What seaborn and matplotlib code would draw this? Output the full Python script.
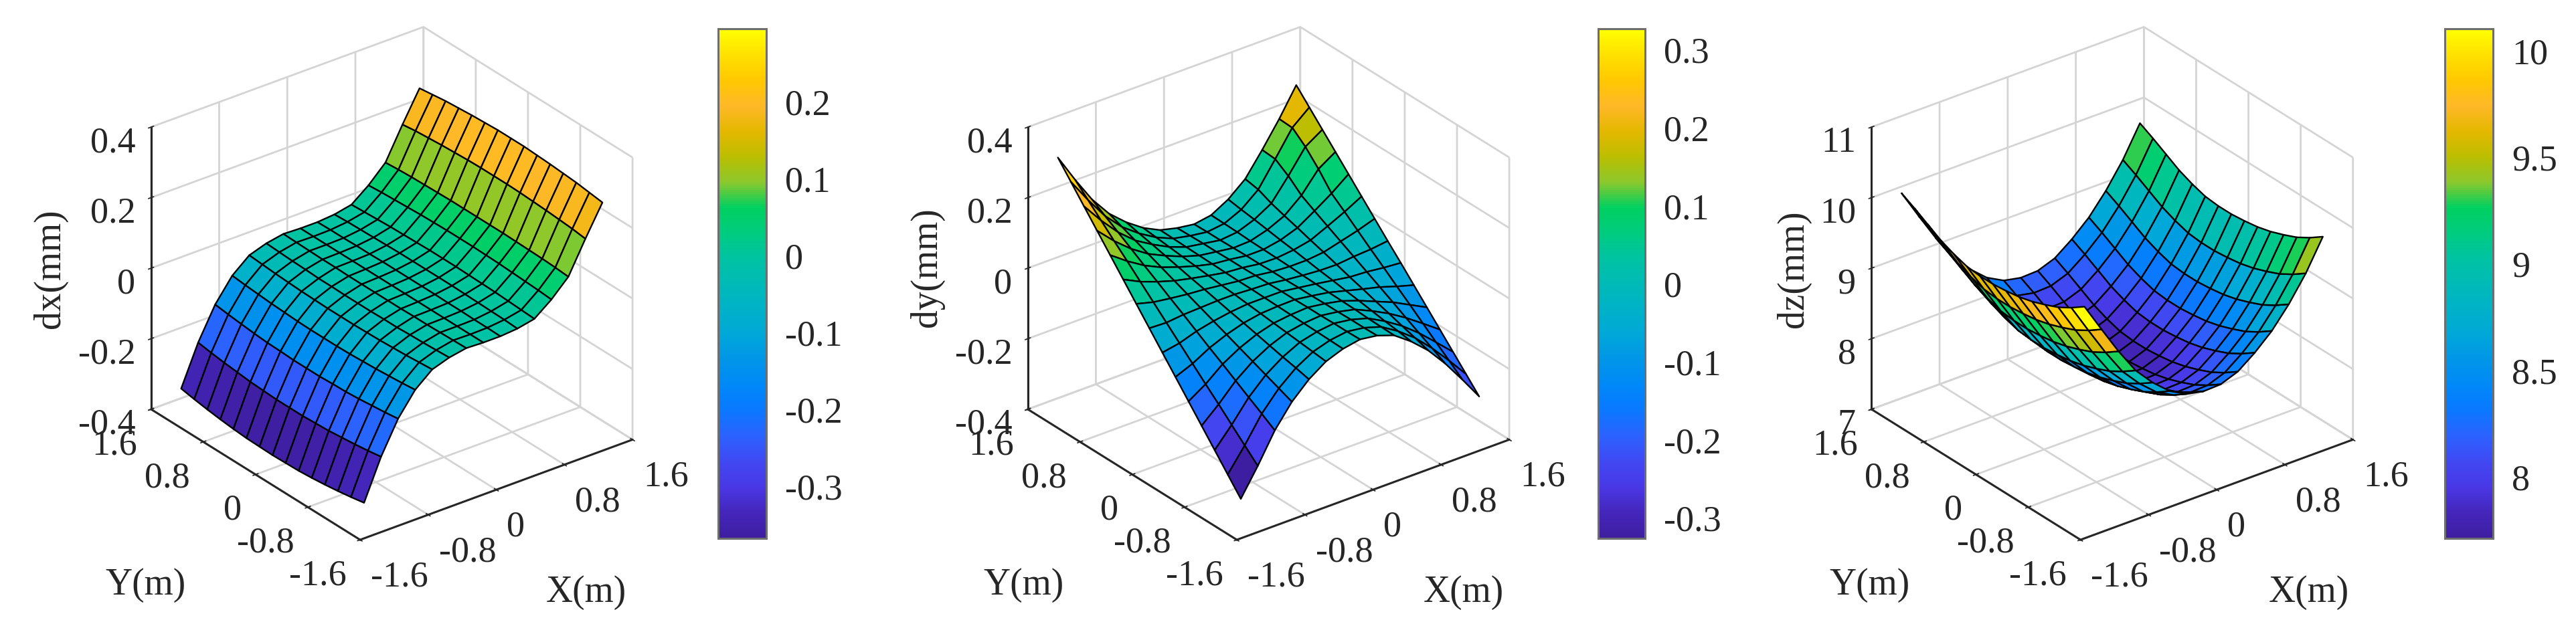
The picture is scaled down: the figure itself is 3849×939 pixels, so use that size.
import numpy as np
import matplotlib
matplotlib.use("Agg")
import matplotlib.pyplot as plt
from matplotlib.cm import ScalarMappable
from matplotlib.colors import Normalize
import seaborn as sns

sns.set_theme(style="white")
plt.rcParams["font.family"] = ["Liberation Serif", "DejaVu Serif"]
plt.rcParams["axes.unicode_minus"] = False
plt.rcParams["grid.color"] = "#d4d4d4"
plt.rcParams["grid.linewidth"] = 2.0

FIG_W, FIG_H = 3849, 939
TICK_SIZE = 39
TEXT_COLOR = "#262626"

grid_x = [-1.4, -1.2, -1.0, -0.8, -0.6, -0.4, -0.2, 0.0, 0.2, 0.4, 0.6, 0.8, 1.0, 1.2, 1.4]
grid_y = [-1.4, -1.2, -1.0, -0.8, -0.6, -0.4, -0.2, 0.0, 0.2, 0.4, 0.6, 0.8, 1.0, 1.2, 1.4]

# one row per x, one column per y
dx_values = [
    [-.336, -.343, -.349, -.354, -.358, -.361, -.362, -.363, -.362, -.361, -.358, -.354, -.349, -.343, -.336],
    [-.223, -.229, -.234, -.238, -.242, -.244, -.246, -.246, -.246, -.244, -.242, -.238, -.234, -.229, -.223],
    [-.133, -.138, -.142, -.146, -.149, -.150, -.152, -.152, -.152, -.150, -.149, -.146, -.142, -.138, -.133],
    [-.069, -.073, -.076, -.079, -.081, -.083, -.084, -.084, -.084, -.083, -.081, -.079, -.076, -.073, -.069],
    [-.029, -.032, -.035, -.037, -.039, -.040, -.041, -.041, -.041, -.040, -.039, -.037, -.035, -.032, -.029],
    [-.013, -.015, -.017, -.018, -.020, -.020, -.021, -.021, -.021, -.020, -.020, -.018, -.017, -.015, -.013],
    [-.004, -.005, -.006, -.007, -.007, -.008, -.008, -.008, -.008, -.008, -.007, -.007, -.006, -.005, -.004],
    [-.006, -.006, -.006, -.006, -.006, -.006, -.006, -.006, -.006, -.006, -.006, -.006, -.006, -.006, -.006],
    [-.006, -.005, -.005, -.004, -.004, -.003, -.003, -.003, -.003, -.003, -.004, -.004, -.005, -.005, -.006],
    [-.002, .000, .001, .002, .003, .004, .004, .004, .004, .004, .003, .002, .001, .000, -.002],
    [.008, .010, .012, .014, .015, .016, .017, .017, .017, .016, .015, .014, .012, .010, .008],
    [.045, .048, .050, .052, .054, .055, .056, .056, .056, .055, .054, .052, .050, .048, .045],
    [.092, .095, .097, .098, .099, .100, .100, .100, .100, .100, .099, .098, .097, .095, .092],
    [.182, .187, .190, .193, .195, .197, .198, .198, .198, .197, .195, .193, .190, .187, .182],
    [.267, .272, .277, .280, .283, .285, .287, .287, .287, .285, .283, .280, .277, .272, .267],
]
dy_values = [
    [-.325, -.279, -.233, -.187, -.141, -.095, -.049, -.003, .043, .089, .135, .181, .227, .273, .319],
    [-.249, -.214, -.179, -.144, -.110, -.075, -.040, -.005, .030, .065, .100, .134, .169, .204, .239],
    [-.166, -.142, -.119, -.095, -.071, -.048, -.024, .000, .023, .047, .070, .094, .118, .141, .165],
    [-.103, -.088, -.073, -.058, -.043, -.028, -.013, .002, .017, .032, .047, .062, .077, .092, .107],
    [-.057, -.048, -.040, -.031, -.022, -.013, -.005, .004, .013, .021, .030, .039, .048, .056, .065],
    [-.024, -.020, -.016, -.012, -.008, -.004, .000, .004, .007, .011, .015, .019, .023, .027, .031],
    [-.006, -.005, -.004, -.003, -.002, -.001, .000, .001, .001, .002, .003, .004, .005, .006, .007],
    [.003, .002, .002, .001, .001, .000, .000, -.001, -.001, -.002, -.002, -.003, -.003, -.004, -.005],
    [-.004, -.005, -.005, -.006, -.006, -.007, -.007, -.008, -.008, -.009, -.009, -.010, -.011, -.011, -.012],
    [-.021, -.020, -.019, -.017, -.016, -.015, -.014, -.013, -.011, -.010, -.009, -.008, -.006, -.005, -.004],
    [-.056, -.050, -.045, -.039, -.033, -.028, -.022, -.017, -.011, -.005, .000, .006, .012, .017, .023],
    [-.099, -.087, -.076, -.064, -.053, -.041, -.030, -.018, -.006, .005, .017, .028, .040, .056, .063],
    [-.154, -.134, -.114, -.094, -.073, -.053, -.033, -.013, .007, .027, .047, .068, .100, .125, .128],
    [-.217, -.187, -.158, -.128, -.098, -.069, -.039, -.010, .020, .050, .079, .125, .165, .196, .198],
    [-.283, -.243, -.203, -.163, -.123, -.083, -.043, -.004, .036, .076, .116, .156, .196, .236, .276],
]
dz_values = [
    [10.10, 9.97, 9.86, 9.78, 9.71, 9.66, 9.63, 9.61, 9.61, 9.63, 9.69, 9.77, 9.88, 9.99, 10.09],
    [9.69, 9.56, 9.45, 9.37, 9.30, 9.25, 9.22, 9.20, 9.20, 9.22, 9.28, 9.36, 9.47, 9.58, 9.68],
    [9.29, 9.16, 9.05, 8.97, 8.90, 8.85, 8.82, 8.80, 8.80, 8.82, 8.88, 8.96, 9.07, 9.18, 9.28],
    [8.93, 8.80, 8.69, 8.61, 8.54, 8.49, 8.46, 8.44, 8.44, 8.46, 8.52, 8.60, 8.71, 8.82, 8.92],
    [8.67, 8.54, 8.43, 8.35, 8.28, 8.23, 8.20, 8.18, 8.18, 8.20, 8.26, 8.34, 8.45, 8.56, 8.66],
    [8.46, 8.33, 8.22, 8.14, 8.07, 8.02, 7.99, 7.97, 7.97, 7.99, 8.05, 8.13, 8.24, 8.35, 8.45],
    [8.33, 8.20, 8.09, 8.01, 7.94, 7.89, 7.86, 7.84, 7.84, 7.86, 7.92, 8.00, 8.11, 8.22, 8.32],
    [8.28, 8.15, 8.04, 7.96, 7.89, 7.84, 7.81, 7.79, 7.79, 7.81, 7.87, 7.95, 8.06, 8.17, 8.27],
    [8.29, 8.16, 8.05, 7.97, 7.90, 7.85, 7.82, 7.80, 7.80, 7.82, 7.88, 7.96, 8.07, 8.18, 8.28],
    [8.38, 8.25, 8.14, 8.06, 7.99, 7.94, 7.91, 7.89, 7.89, 7.91, 7.97, 8.05, 8.16, 8.27, 8.37],
    [8.56, 8.43, 8.32, 8.24, 8.17, 8.12, 8.09, 8.07, 8.07, 8.09, 8.15, 8.23, 8.34, 8.45, 8.55],
    [8.78, 8.65, 8.54, 8.46, 8.39, 8.34, 8.31, 8.29, 8.29, 8.31, 8.37, 8.45, 8.56, 8.67, 8.77],
    [9.07, 8.94, 8.83, 8.75, 8.68, 8.63, 8.60, 8.58, 8.58, 8.60, 8.66, 8.74, 8.85, 8.96, 9.06],
    [9.42, 9.29, 9.18, 9.10, 9.03, 8.98, 8.95, 8.93, 8.93, 8.95, 9.01, 9.09, 9.20, 9.31, 9.41],
    [9.85, 9.72, 9.61, 9.53, 9.46, 9.41, 9.38, 9.36, 9.36, 9.38, 9.44, 9.52, 9.63, 9.74, 9.84],
]

xy_ticks = [-1.6, -0.8, 0, 0.8, 1.6]
xy_labels = ["-1.6", "-0.8", "0", "0.8", "1.6"]
dxy_ticks = [-0.4, -0.2, 0, 0.2, 0.4]
dxy_labels = ["-0.4", "-0.2", "0", "0.2", "0.4"]
dz_ticks = [7, 8, 9, 10, 11]
dz_labels = ["7", "8", "9", "10", "11"]

cbar_ticks_dx = [-0.3, -0.2, -0.1, 0, 0.1, 0.2]
cbar_labels_dx = ["-0.3", "-0.2", "-0.1", "0", "0.1", "0.2"]
cbar_ticks_dy = [-0.3, -0.2, -0.1, 0, 0.1, 0.2, 0.3]
cbar_labels_dy = ["-0.3", "-0.2", "-0.1", "0", "0.1", "0.2", "0.3"]
cbar_ticks_dz = [8, 8.5, 9, 9.5, 10]
cbar_labels_dz = ["8", "8.5", "9", "9.5", "10"]

parula_colors = [
    "#3E1EA0", "#4426BC", "#4A38E6", "#4048F2", "#2C62FF", "#0A78FF", "#0088F8",
    "#0096E8", "#00A8D8", "#00B2C8", "#00BAB6", "#00C3A2", "#00CC80", "#00D060",
    "#8CC82C", "#BCBE00", "#E4B800", "#FFB828", "#FFC800", "#FFE000", "#FFFF00",
]
parula = sns.blend_palette(parula_colors, n_colors=256, as_cmap=True)

panels = [
    dict(z=dx_values, zlim=(-0.4, 0.4), zticks=dxy_ticks, zlabels=dxy_labels, clim=(-0.368, 0.295),
         cticks=cbar_ticks_dx, clabels=cbar_labels_dx, center=(585.4, 423.7), cbar=(1073, 1145),
         name="dx(mm)", name_pos=(75, 402), x_pos=(876, 886), y_pos=(218, 875)),
    dict(z=dy_values, zlim=(-0.4, 0.4), zticks=dxy_ticks, zlabels=dxy_labels, clim=(-0.326, 0.327),
         cticks=cbar_ticks_dy, clabels=cbar_labels_dy, center=(1895.4, 423.7), cbar=(2388, 2458),
         name="dy(mm)", name_pos=(1385, 400), x_pos=(2187, 886), y_pos=(1530, 875)),
    dict(z=dz_values, zlim=(7, 11), zticks=dz_ticks, zlabels=dz_labels, clim=(7.71, 10.106),
         cticks=cbar_ticks_dz, clabels=cbar_labels_dz, center=(3156, 423.7), cbar=(3653, 3725),
         name="dz(mm)", name_pos=(2680, 402), x_pos=(3450, 886), y_pos=(2793, 875)),
]

fig = plt.figure(figsize=(FIG_W / 100, FIG_H / 100), dpi=100)
AX_SIZE = 900

for p in panels:
    cx, cy = p["center"]
    left = cx - 0.5135 * AX_SIZE
    bottom = (FIG_H - cy) - 0.5135 * AX_SIZE
    ax = fig.add_axes([left / FIG_W, bottom / FIG_H, AX_SIZE / FIG_W, AX_SIZE / FIG_H], projection="3d")
    ax.set_facecolor("none")
    ax.set_proj_type("ortho")
    ax.view_init(elev=28.65, azim=-127.5)
    ax.set_box_aspect((1, 1, 0.937), zoom=845 / AX_SIZE)
    ax.set_xlim(-1.6, 1.6, view_margin=0)
    ax.set_ylim(-1.6, 1.6, view_margin=0)
    ax.set_zlim(*p["zlim"], view_margin=0)

    X, Y = np.meshgrid(grid_x, grid_y, indexing="ij")
    Z = np.array(p["z"])
    norm = Normalize(*p["clim"])
    ax.plot_surface(X, Y, Z, facecolors=parula(norm(Z)), rstride=1, cstride=1, shade=False,
                    edgecolor="black", linewidth=1.7, antialiased=True)

    ax.set_xticks(xy_ticks, xy_labels)
    ax.set_yticks(xy_ticks, xy_labels)
    ax.set_zticks(p["zticks"], p["zlabels"])
    ax.tick_params(axis="x", labelsize=TICK_SIZE, labelcolor=TEXT_COLOR, color=TEXT_COLOR, width=2, pad=9)
    ax.tick_params(axis="y", labelsize=TICK_SIZE, labelcolor=TEXT_COLOR, color=TEXT_COLOR, width=2, pad=9)
    ax.tick_params(axis="z", labelsize=TICK_SIZE, labelcolor=TEXT_COLOR, color=TEXT_COLOR, width=2, pad=3)
    for t in ax.get_xticklabels():
        t.set_ha("left")
    for t in ax.get_yticklabels():
        t.set_ha("right")
    for t in ax.get_zticklabels():
        t.set_ha("right")
    for axis in (ax.xaxis, ax.yaxis, ax.zaxis):
        axis.set_pane_color((1, 1, 1, 0))
        axis.pane.set_edgecolor("#d4d4d4")
        axis.pane.set_linewidth(2.0)
        axis.line.set_color(TEXT_COLOR)
        axis.line.set_linewidth(2.2)
        axis._axinfo["tick"]["inward_factor"] = 0.12
        axis._axinfo["tick"]["outward_factor"] = 0.12

    fig.text(p["name_pos"][0] / FIG_W, 1 - p["name_pos"][1] / FIG_H, p["name"], rotation=90,
             ha="center", va="center", fontsize=40, color=TEXT_COLOR)
    fig.text(p["x_pos"][0] / FIG_W, 1 - p["x_pos"][1] / FIG_H, "X(m)",
             ha="center", va="center", fontsize=40, color=TEXT_COLOR)
    fig.text(p["y_pos"][0] / FIG_W, 1 - p["y_pos"][1] / FIG_H, "Y(m)",
             ha="center", va="center", fontsize=40, color=TEXT_COLOR)

    c0, c1 = p["cbar"]
    cax = fig.add_axes([c0 / FIG_W, 1 - 805 / FIG_H, (c1 - c0) / FIG_W, 762 / FIG_H])
    cb = fig.colorbar(ScalarMappable(norm=norm, cmap=parula), cax=cax)
    cb.set_ticks(p["cticks"], labels=p["clabels"])
    cb.ax.tick_params(direction="in", length=6, width=1.6, color=TEXT_COLOR, pad=20,
                      labelsize=TICK_SIZE, labelcolor=TEXT_COLOR, right=True)
    cb.outline.set_edgecolor("#6e6e6e")
    cb.outline.set_linewidth(2.2)

fig.savefig("out.png", dpi=100)
